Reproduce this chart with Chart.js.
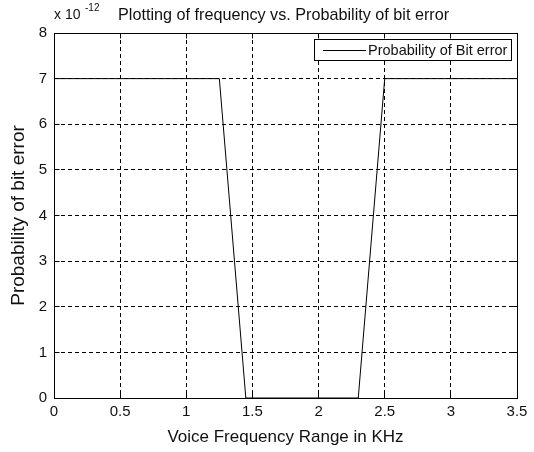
<!DOCTYPE html>
<html>
<head>
<meta charset="utf-8">
<script src="https://cdn.jsdelivr.net/npm/chart.js@4"></script>
<style>
  body { margin: 0; background: #fff; }
  #wrap { width: 534px; height: 452px; }
</style>
</head>
<body>
<div id="wrap"><canvas id="chart" width="534" height="452"></canvas></div>
<script>
// data (frequency in kHz, error probability)
const freqKHz = [0, 1.25, 1.45, 2.3, 2.5, 3.5];
const bitErrorProb = [7e-12, 7e-12, 0, 0, 7e-12, 7e-12];
const xTicks = [0, 0.5, 1, 1.5, 2, 2.5, 3, 3.5];
const yTicks = [0, 1, 2, 3, 4, 5, 6, 7, 8];

const seriesLabel = 'Probability of Bit error';
const chartTitle = 'Plotting of frequency vs. Probability of bit error';
const FONT = '"Liberation Sans", Arial, sans-serif';

const px = v => Math.round(v - 0.5) + 0.5;

// hide grid lines that would sit on the box edges
const innerGrid = ctx => (ctx.index === 0 || ctx.index === ctx.scale.ticks.length - 1) ? 'rgba(0,0,0,0)' : '#000';

// box around the axes, inward ticks, title, exponent note and the inset legend
const matlabLook = {
  id: 'matlabLook',
  afterDraw(chart) {
    const { ctx, chartArea: a, scales } = chart;
    const L = px(a.left), R = px(a.right), T = px(a.top), B = px(a.bottom);
    ctx.save();
    ctx.strokeStyle = '#000';
    ctx.lineWidth = 1;
    ctx.strokeRect(L, T, R - L, B - T);

    ctx.beginPath();
    xTicks.forEach(v => {
      const x = px(scales.x.getPixelForValue(v));
      ctx.moveTo(x, B); ctx.lineTo(x, B - 5);
      ctx.moveTo(x, T); ctx.lineTo(x, T + 5);
    });
    yTicks.forEach(v => {
      const y = px(scales.y.getPixelForValue(v * 1e-12));
      ctx.moveTo(L, y); ctx.lineTo(L + 5, y);
      ctx.moveTo(R, y); ctx.lineTo(R - 5, y);
    });
    ctx.stroke();

    ctx.fillStyle = '#111';
    ctx.textBaseline = 'alphabetic';
    ctx.textAlign = 'left';
    ctx.font = '14px ' + FONT;
    ctx.fillText('x 10', 54, 19);
    ctx.font = '10px ' + FONT;
    ctx.fillText('-12', 85, 11);
    ctx.font = '16.2px ' + FONT;
    ctx.fillText(chartTitle, 118, 20);

    // legend box
    const lx = 314, ly = 39, lw = 197, lh = 21;
    ctx.fillStyle = '#fff';
    ctx.fillRect(lx, ly, lw, lh);
    ctx.strokeRect(lx + 0.5, ly + 0.5, lw, lh);
    ctx.beginPath();
    ctx.moveTo(323, ly + 11.5);
    ctx.lineTo(366, ly + 11.5);
    ctx.stroke();
    ctx.fillStyle = '#111';
    ctx.font = '14.5px ' + FONT;
    ctx.textBaseline = 'middle';
    ctx.fillText(seriesLabel, 368, ly + 11.5);
    ctx.restore();
  }
};

new Chart(document.getElementById('chart'), {
  type: 'line',
  data: {
    datasets: [{
      label: seriesLabel,
      data: freqKHz.map((f, i) => ({ x: f, y: bitErrorProb[i] })),
      borderColor: '#000',
      borderWidth: 1,
      pointRadius: 0,
      tension: 0,
      fill: false
    }]
  },
  options: {
    responsive: false,
    animation: false,
    layout: { padding: { top: 33, right: 17, left: 0, bottom: 0 } },
    plugins: {
      legend: { display: false },
      title: { display: false },
      tooltip: { enabled: false }
    },
    scales: {
      x: {
        type: 'linear',
        min: 0,
        max: 3.5,
        afterBuildTicks: s => { s.ticks = xTicks.map(v => ({ value: v })); },
        afterFit: s => { s.height = 54; },
        grid: { color: innerGrid, lineWidth: 1, drawTicks: false },
        border: { display: false, dash: [4, 3] },
        ticks: {
          padding: 5,
          color: '#111',
          font: { family: FONT, size: 15 },
          callback: v => String(v)
        },
        title: {
          display: true,
          text: 'Voice Frequency Range in KHz',
          color: '#111',
          font: { family: FONT, size: 17 },
          padding: { top: 4, bottom: 4 }
        }
      },
      y: {
        min: 0,
        max: 8e-12,
        afterBuildTicks: s => { s.ticks = yTicks.map(v => ({ value: v * 1e-12 })); },
        afterFit: s => { s.width = 54; },
        grid: { color: innerGrid, lineWidth: 1, drawTicks: false },
        border: { display: false, dash: [4, 3] },
        ticks: {
          padding: 7,
          color: '#111',
          font: { family: FONT, size: 15 },
          callback: v => String(Math.round(v * 1e12))
        },
        title: {
          display: true,
          text: 'Probability of bit error',
          color: '#111',
          font: { family: FONT, size: 19 },
          padding: { top: 7, bottom: 4 }
        }
      }
    }
  },
  plugins: [matlabLook]
});
</script>
</body>
</html>
